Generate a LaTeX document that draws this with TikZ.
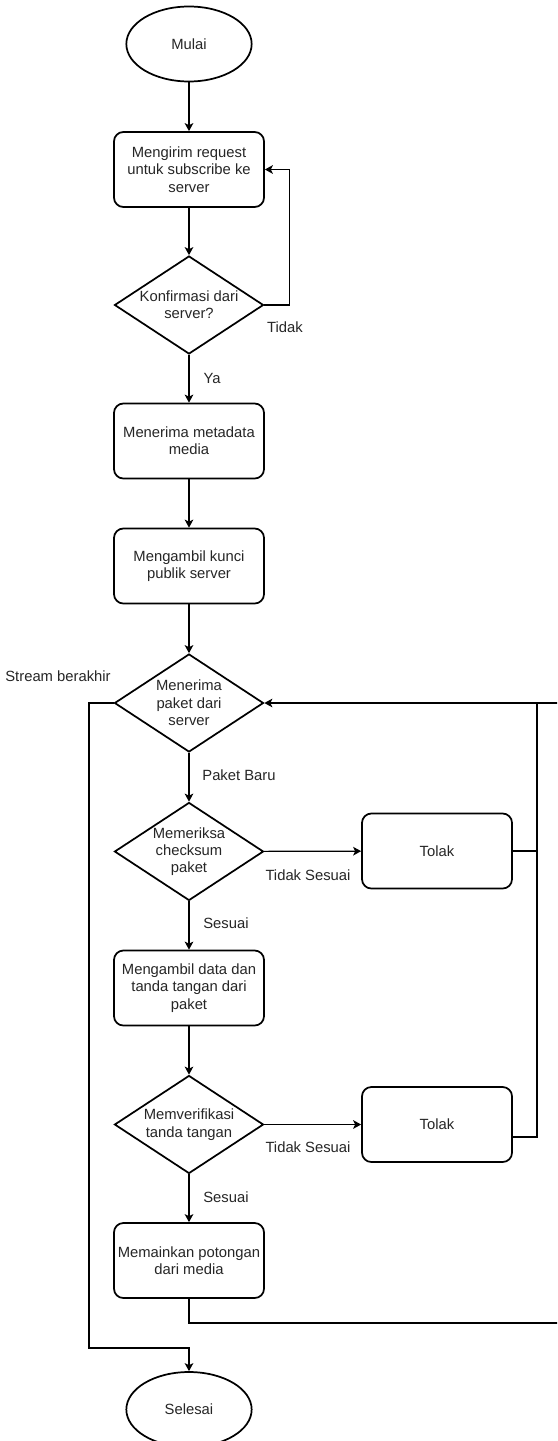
\documentclass[tikz,border=0pt]{standalone}
\usepackage{fontspec}
\setmainfont{Liberation Sans}
\usetikzlibrary{shapes.geometric,arrows.meta}
\begin{document}
\begin{tikzpicture}[x=0.75pt,y=-0.75pt,
  every node/.style={font=\fontsize{11.1pt}{13pt}\selectfont, text=black!85},
  proc/.style={draw=black, line width=1.3pt, rounded corners=7pt, minimum width=112.5pt, minimum height=56.25pt, align=center, inner sep=0pt},
  term/.style={draw=black, line width=1.3pt, ellipse, minimum width=94pt, minimum height=56.25pt, inner sep=0pt},
  dia/.style={draw=black, line width=1.3pt, diamond, minimum width=111.75pt, minimum height=73.5pt, inner sep=0pt},
  conn/.style={draw=black, line width=0.9pt},
  arr/.style={conn, -{Stealth[length=6pt,width=6.5pt,inset=1.5pt]}},
  lbl/.style={inner sep=0pt}
]
\useasboundingbox (0,0) rectangle (557,1441);
\clip (0,0) rectangle (557,1441);
\fill[white] (0,0) rectangle (557,1441);

% nodes
\node[term] (start) at (189,44) {Mulai};
\node[proc] (p1) at (189,169.5) {Mengirim request\\untuk subscribe ke\\server};
\node[dia, label={[align=center,name=d1t]center:{Konfirmasi dari\\server?}}] (d1) at (189,305) {};
\node[proc] (p2) at (189,441) {Menerima metadata\\media};
\node[proc] (p3) at (189,566) {Mengambil kunci\\publik server};
\node[dia, label={[align=center,name=d2t]center:{Menerima\\paket dari\\server}}] (d2) at (189,703) {};
\node[dia, label={[align=center,name=d3t]center:{Memeriksa\\checksum\\paket}}] (d3) at (189,851.5) {};
\node[proc] (r1) at (437,851) {Tolak};
\node[proc] (p4) at (189,988) {Mengambil data dan\\tanda tangan dari\\paket};
\node[dia, label={[align=center,name=d4t]center:{Memverifikasi\\tanda tangan}}] (d4) at (189,1124.5) {};
\node[proc] (r2) at (437,1124.5) {Tolak};
\node[proc] (p5) at (189,1260.5) {Memainkan potongan\\dari media};
\node[term] (end) at (189,1409.5) {Selesai};

% helper coordinates
\coordinate (rjoin) at (537,703);
\coordinate (loopR) at (575,1323);
\coordinate (lc) at (89,1348);

% connectors
\draw[arr] (start) -- (p1);
\draw[arr] (p1) -- (d1);
\draw[arr] (d1.east) -- ++(25,0) |- (p1.east);
\draw[arr] (d1) -- (p2);
\draw[arr] (p2) -- (p3);
\draw[arr] (p3) -- (d2);
\draw[arr] (d2) -- (d3);
\draw[arr] (d3) -- (r1);
\draw[arr] (d3) -- (p4);
\draw[arr] (p4) -- (d4);
\draw[arr] (d4) -- (r2);
\draw[arr] (d4) -- (p5);
\draw[conn] (r1.east) -- (r1.east -| rjoin);
\draw[conn] ([yshift=-9.4pt]r2.east) -| (rjoin);
\draw[arr] (p5.south) |- (loopR) |- (d2.east);
\draw[arr] (d2.west) -| (lc) -| (end.north);

% labels
\node[lbl] (lTidak) at (285,327) {Tidak};
\node[lbl] (lYa) at (212,378) {Ya};
\node[lbl] (lStream) at (58,676) {Stream berakhir};
\node[lbl] (lBaru) at (239,775) {Paket Baru};
\node[lbl] (lTS1) at (308,875) {Tidak Sesuai};
\node[lbl] (lS1) at (226,923) {Sesuai};
\node[lbl] (lTS2) at (308,1147) {Tidak Sesuai};
\node[lbl] (lS2) at (226,1197) {Sesuai};
\end{tikzpicture}
\end{document}
